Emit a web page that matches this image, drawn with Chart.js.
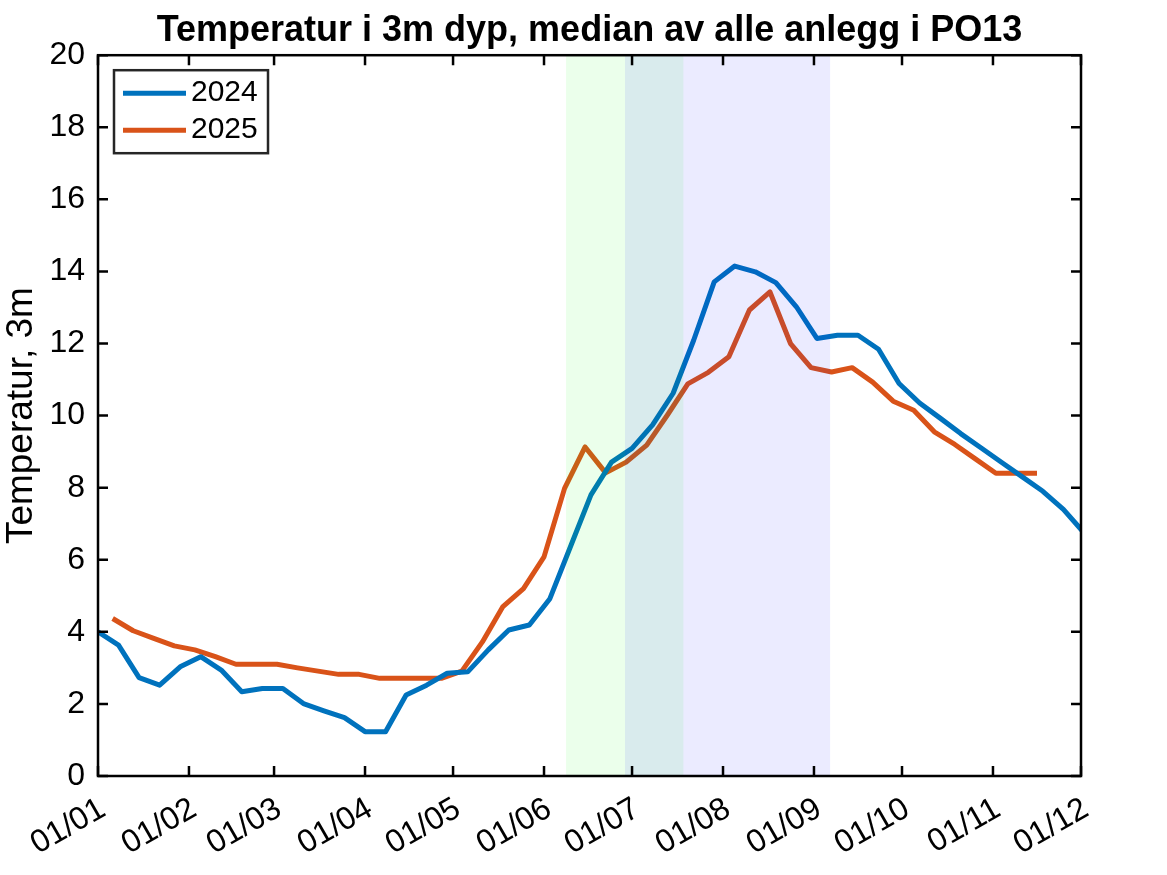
<!DOCTYPE html>
<html>
<head>
<meta charset="utf-8">
<script src="https://cdn.jsdelivr.net/npm/chart.js@4.4.1/dist/chart.umd.min.js"></script>
<style>
  html, body { margin: 0; padding: 0; background: #fff; }
</style>
</head>
<body>
<canvas id="tempChart" width="1167" height="875"></canvas>
<script>
// dag i året (0 = 1. januar), ukentlige målinger
const days2024 = [0, 7, 14, 21, 28, 35, 42, 49, 56, 63, 70, 77, 84, 91, 98, 105, 112, 119, 126, 133,
  140, 147, 154, 161, 168, 175, 182, 189, 196, 203, 210, 217, 224, 231, 238, 245, 252, 259, 266, 273,
  280, 287, 294, 301, 308, 315, 322, 329, 336];
const temp2024 = [4.0, 3.63, 2.73, 2.52, 3.03, 3.31, 2.94, 2.34, 2.43, 2.43, 2.01, 1.81, 1.62, 1.23, 1.23, 2.25, 2.52, 2.85, 2.89, 3.5,
  4.05, 4.19, 4.92, 6.36, 7.8, 8.71, 9.09, 9.74, 10.62, 12.09, 13.71, 14.15, 13.99, 13.69, 13.02, 12.14, 12.23, 12.23, 11.84, 10.89,
  10.35, 9.93, 9.5, 9.1, 8.7, 8.3, 7.9, 7.4, 6.75];

const days2025 = [5, 12, 19, 26, 33, 40, 47, 54, 61, 68, 75, 82, 89, 96, 103, 110, 117, 124, 131, 138,
  145, 152, 159, 166, 173, 180, 187, 194, 201, 208, 215, 222, 229, 236, 243, 250, 257, 264, 271, 278,
  285, 292, 299, 306, 313, 320];
const temp2025 = [4.37, 4.03, 3.82, 3.61, 3.5, 3.31, 3.1, 3.1, 3.1, 3.0, 2.91, 2.82, 2.82, 2.71, 2.71, 2.71, 2.71, 2.91, 3.72, 4.7,
  5.2, 6.08, 7.98, 9.13, 8.41, 8.71, 9.18, 10.01, 10.88, 11.2, 11.63, 12.93, 13.43, 12.0, 11.33, 11.21, 11.33, 10.93, 10.4, 10.15,
  9.55, 9.2, 8.8, 8.4, 8.4, 8.4];

const monthDays = [0, 31, 60, 91, 121, 152, 182, 213, 244, 274, 305, 335];
const monthLabels = ['01/01', '01/02', '01/03', '01/04', '01/05', '01/06', '01/07', '01/08', '01/09', '01/10', '01/11', '01/12'];

// skraverte perioder (dag i året)
const shadeStart = [159.5, 179.6];
const shadeEnd = [199.5, 249.5];

const yTicks = [0, 2, 4, 6, 8, 10, 12, 14, 16, 18, 20];

Chart.defaults.font.family = '"Liberation Sans", Arial, Helvetica, sans-serif';
Chart.defaults.color = '#000';

const shading = {
  id: 'shading',
  afterDatasetsDraw(chart) {
    const { ctx, chartArea: a, scales: { x } } = chart;
    const colors = ['rgba(0,255,0,0.08)', 'rgba(0,0,255,0.08)'];
    ctx.save();
    shadeStart.forEach((s, i) => {
      const x0 = x.getPixelForValue(s);
      const x1 = x.getPixelForValue(shadeEnd[i]);
      ctx.fillStyle = colors[i];
      ctx.fillRect(x0, a.top, x1 - x0, a.bottom - a.top);
    });
    ctx.restore();
  }
};

const frame = {
  id: 'frame',
  afterDatasetsDraw(chart) {
    const { ctx, chartArea: a, scales: { x, y } } = chart;
    ctx.save();
    ctx.strokeStyle = '#000';
    ctx.lineWidth = 2.5;
    ctx.beginPath();
    x.ticks.forEach(t => {
      const px = x.getPixelForValue(t.value);
      ctx.moveTo(px, a.bottom); ctx.lineTo(px, a.bottom - 10);
      ctx.moveTo(px, a.top); ctx.lineTo(px, a.top + 10);
    });
    y.ticks.forEach(t => {
      const py = y.getPixelForValue(t.value);
      ctx.moveTo(a.left, py); ctx.lineTo(a.left + 10, py);
      ctx.moveTo(a.right, py); ctx.lineTo(a.right - 10, py);
    });
    ctx.stroke();
    ctx.strokeRect(a.left, a.top, a.right - a.left, a.bottom - a.top);
    ctx.restore();
  }
};

const legendBox = {
  id: 'legendBox',
  afterDatasetsDraw(chart) {
    const { ctx, chartArea: a } = chart;
    const x0 = a.left + 16, y0 = a.top + 15, w = 154, h = 83;
    ctx.save();
    ctx.fillStyle = '#fff';
    ctx.fillRect(x0, y0, w, h);
    ctx.strokeStyle = '#262626';
    ctx.lineWidth = 2.5;
    ctx.strokeRect(x0, y0, w, h);
    chart.data.datasets.forEach((ds, i) => {
      const yy = y0 + 23 + i * 37;
      ctx.strokeStyle = ds.borderColor;
      ctx.lineWidth = ds.borderWidth;
      ctx.beginPath();
      ctx.moveTo(x0 + 9, yy);
      ctx.lineTo(x0 + 72, yy);
      ctx.stroke();
      ctx.fillStyle = '#000';
      ctx.font = '30px "Liberation Sans", Arial, sans-serif';
      ctx.textBaseline = 'middle';
      ctx.fillText(ds.label, x0 + 77, yy);
    });
    ctx.restore();
  }
};

const ctx = document.getElementById('tempChart').getContext('2d');
new Chart(ctx, {
  type: 'line',
  data: {
    datasets: [{
      label: '2024',
      data: days2024.map((d, i) => ({ x: d, y: temp2024[i] })),
      borderColor: '#0072BD',
      borderWidth: 5,
      pointRadius: 0,
      tension: 0,
      borderJoinStyle: 'round',
      clip: 0
    }, {
      label: '2025',
      data: days2025.map((d, i) => ({ x: d, y: temp2025[i] })),
      borderColor: '#D95319',
      borderWidth: 5,
      pointRadius: 0,
      tension: 0,
      borderJoinStyle: 'round',
      clip: 0
    }]
  },
  options: {
    responsive: false,
    animation: false,
    layout: { padding: { left: 0, right: 86, top: 0, bottom: 0 } },
    plugins: {
      legend: { display: false },
      tooltip: { enabled: false },
      title: {
        display: true,
        fullSize: false,
        text: 'Temperatur i 3m dyp, median av alle anlegg i PO13',
        color: '#000',
        font: { size: 36, weight: 'bold' },
        padding: { top: 9, bottom: 3 }
      }
    },
    scales: {
      x: {
        type: 'linear',
        min: 0,
        max: 335,
        afterBuildTicks: s => { s.ticks = monthDays.map(v => ({ value: v })); },
        afterFit: s => { s.height = 99; },
        grid: { display: false, drawTicks: false },
        border: { display: false },
        ticks: {
          autoSkip: false,
          minRotation: 30,
          maxRotation: 30,
          padding: 14,
          labelOffset: 5,
          font: { size: 32 },
          color: '#000',
          callback: v => monthLabels[monthDays.indexOf(v)]
        }
      },
      y: {
        min: 0,
        max: 20,
        afterBuildTicks: s => { s.ticks = yTicks.map(v => ({ value: v })); },
        afterFit: s => { s.width = 98; },
        grid: { display: false, drawTicks: false },
        border: { display: false },
        ticks: {
          padding: 13,
          font: { size: 32 },
          color: '#000'
        },
        title: {
          display: true,
          text: 'Temperatur, 3m',
          color: '#000',
          font: { size: 37 },
          padding: { top: 0, bottom: 0 }
        }
      }
    }
  },
  plugins: [shading, frame, legendBox]
});
</script>
</body>
</html>
